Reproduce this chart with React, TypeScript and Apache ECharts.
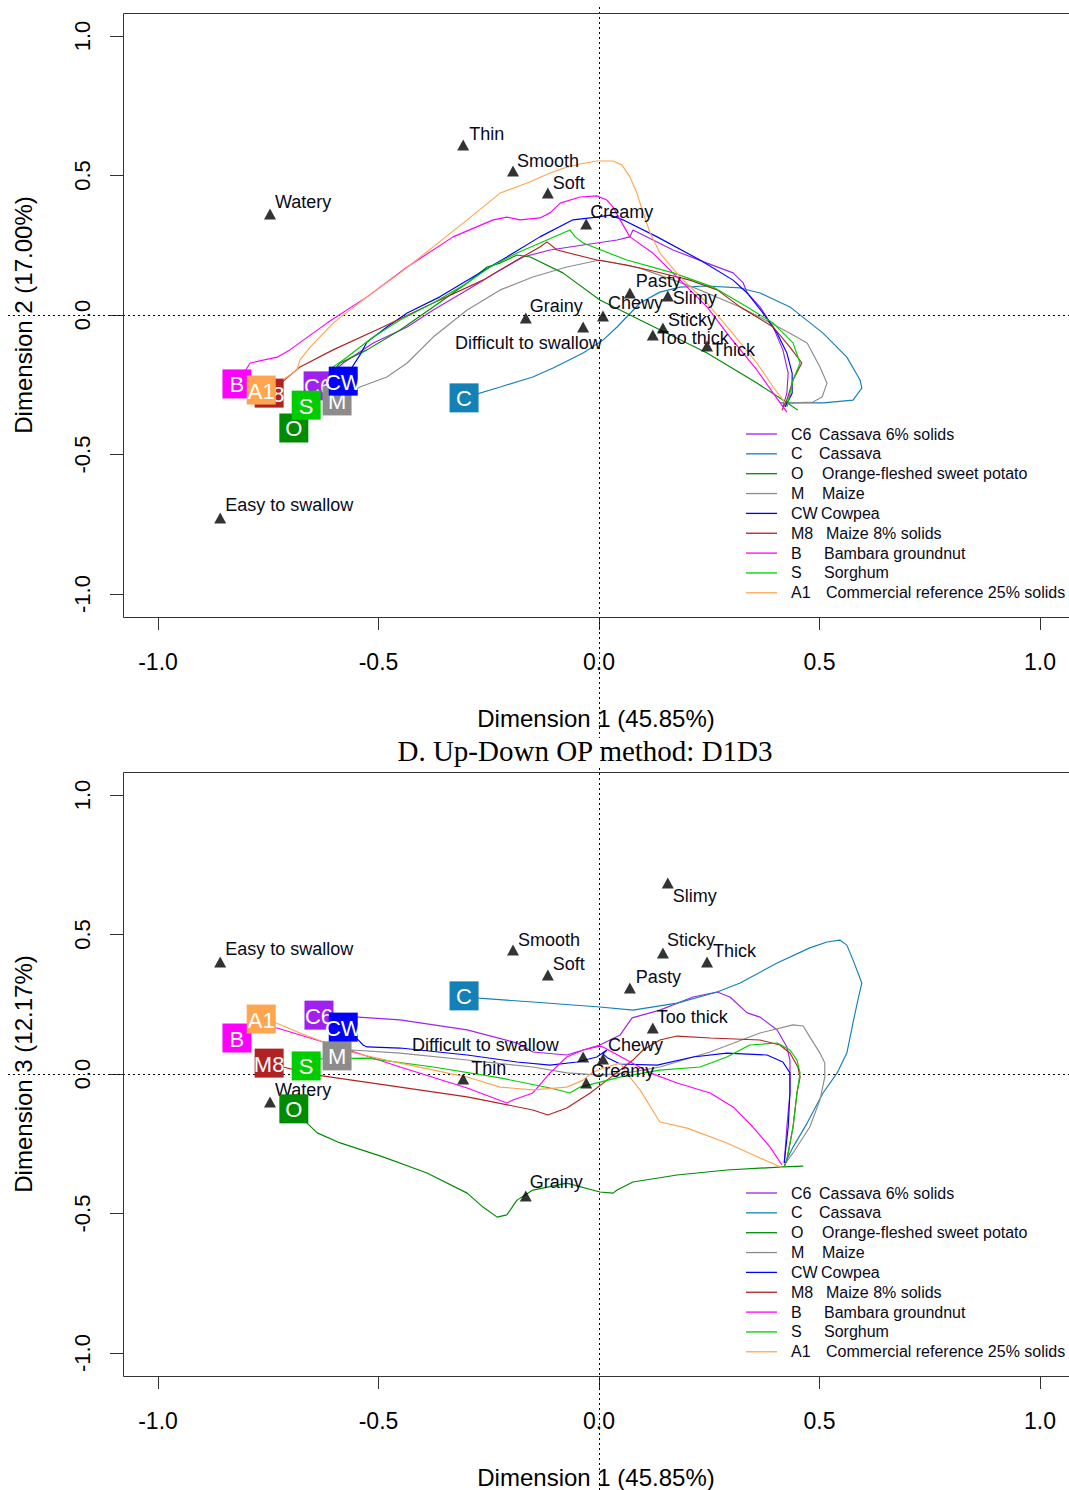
import React, { useEffect, useRef } from "react";
import * as echarts from "echarts";

const SANS = '"Liberation Sans", Arial, Helvetica, sans-serif';
const SERIF = '"Liberation Serif", "Times New Roman", serif';

// ---------- products ----------
const productCodes = ["C6", "C", "O", "M", "CW", "M8", "B", "S", "A1"];
const productNames = [
  "Cassava 6% solids",
  "Cassava",
  "Orange-fleshed sweet potato",
  "Maize",
  "Cowpea",
  "Maize 8% solids",
  "Bambara groundnut",
  "Sorghum",
  "Commercial reference 25% solids",
];
const productColors = ["#A020F0", "#1380B8", "#008B00", "#8C8C8C", "#0000FF", "#B22222", "#FF00FF", "#00CD00", "#FFA54F"];

// ---------- attributes ----------
const attributes = ["Thin", "Smooth", "Soft", "Creamy", "Pasty", "Slimy", "Chewy", "Sticky", "Too thick", "Thick", "Difficult to swallow", "Grainy", "Watery", "Easy to swallow"];
const attrDim1 = [-0.308, -0.195, -0.116, -0.029, 0.07, 0.156, 0.009, 0.145, 0.122, 0.245, -0.036, -0.166, -0.746, -0.859];
const attrDim2 = [0.609, 0.516, 0.437, 0.326, 0.079, 0.068, -0.004, -0.047, -0.072, -0.111, -0.043, -0.011, 0.362, -0.728];
const attrDim3 = [-0.018, 0.444, 0.355, -0.032, 0.308, 0.685, 0.054, 0.434, 0.165, 0.401, 0.061, -0.437, -0.1, 0.401];

// label offsets (px) relative to the point
const labelOffsetD2 = [[6, -11], [4, -10], [5, -10], [4, -12], [6, -12], [5, 2], [5, -13], [5, -8], [5, 3], [5, 4], [-128, 16], [4, -12], [5, -12], [5, -13]];
const labelOffsetD3 = [[8, -11], [5, -10], [5, -11], [5, -12], [6, -11], [5, 13], [5, -14], [4, -13], [4, -11], [6, -11], [-171, -12], [4, -14], [5, -12], [5, -13]];

// ---------- trajectories, Dimension 1 x Dimension 2 ----------
const pathC6_D2 = [[-0.637, -0.254], [-0.58, -0.172], [-0.512, -0.1], [-0.435, -0.043], [-0.376, 0.018], [-0.299, 0.09], [-0.224, 0.161], [-0.172, 0.208], [-0.111, 0.233], [-0.036, 0.251], [0.041, 0.269], [0.07, 0.28], [0.077, 0.305], [0.168, 0.233], [0.245, 0.186], [0.304, 0.151], [0.327, 0.115], [0.336, 0.079], [0.365, 0.029], [0.395, -0.043], [0.417, -0.125], [0.429, -0.208], [0.426, -0.28], [0.417, -0.33]];
const pathC_D2 = [[-0.306, -0.297], [-0.224, -0.258], [-0.15, -0.222], [-0.104, -0.19], [-0.036, -0.136], [0.009, -0.09], [0.041, -0.043], [0.093, 0.043], [0.138, 0.082], [0.184, 0.1], [0.245, 0.104], [0.32, 0.097], [0.365, 0.079], [0.433, 0.029], [0.508, -0.065], [0.562, -0.151], [0.592, -0.233], [0.596, -0.262], [0.576, -0.305], [0.508, -0.315], [0.433, -0.315], [0.41, -0.315]];
const pathO_D2 = [[-0.692, -0.405], [-0.655, -0.351], [-0.626, -0.244], [-0.587, -0.172], [-0.526, -0.125], [-0.451, -0.054], [-0.376, 0.029], [-0.299, 0.115], [-0.254, 0.172], [-0.224, 0.186], [-0.186, 0.215], [-0.156, 0.208], [-0.082, 0.151], [0.002, 0.054], [0.093, -0.018], [0.245, -0.136], [0.358, -0.244], [0.417, -0.305], [0.451, -0.341]];
const pathM_D2 = [[-0.594, -0.308], [-0.542, -0.258], [-0.481, -0.222], [-0.435, -0.172], [-0.376, -0.079], [-0.299, 0.018], [-0.224, 0.09], [-0.15, 0.136], [-0.073, 0.172], [0.002, 0.197], [0.093, 0.168], [0.213, 0.1], [0.32, 0.029], [0.433, -0.065], [0.472, -0.1], [0.501, -0.186], [0.517, -0.244], [0.506, -0.294], [0.485, -0.312], [0.44, -0.315], [0.422, -0.319]];
const pathCW_D2 = [[-0.58, -0.237], [-0.542, -0.143], [-0.526, -0.097], [-0.481, -0.043], [-0.435, 0.007], [-0.361, 0.065], [-0.286, 0.136], [-0.209, 0.208], [-0.134, 0.28], [-0.059, 0.341], [-0.005, 0.351], [0.025, 0.358], [0.054, 0.341], [0.132, 0.28], [0.229, 0.197], [0.304, 0.125], [0.336, 0.079], [0.372, 0.007], [0.404, -0.065], [0.426, -0.136], [0.438, -0.208], [0.438, -0.28], [0.422, -0.33]];
const pathM8_D2 = [[-0.748, -0.28], [-0.678, -0.186], [-0.603, -0.125], [-0.49, -0.043], [-0.376, 0.043], [-0.263, 0.125], [-0.186, 0.197], [-0.134, 0.244], [-0.118, 0.262], [-0.095, 0.233], [-0.005, 0.197], [0.063, 0.179], [0.132, 0.154], [0.206, 0.125], [0.268, 0.09], [0.32, 0.029], [0.395, -0.043], [0.433, -0.115], [0.46, -0.172], [0.44, -0.233], [0.426, -0.305], [0.415, -0.341]];
const pathB_D2 = [[-0.821, -0.247], [-0.791, -0.172], [-0.73, -0.151], [-0.701, -0.125], [-0.617, -0.029], [-0.526, 0.065], [-0.435, 0.172], [-0.331, 0.28], [-0.24, 0.341], [-0.209, 0.351], [-0.179, 0.341], [-0.134, 0.348], [-0.111, 0.366], [-0.088, 0.401], [-0.043, 0.423], [-0.005, 0.427], [0.018, 0.412], [0.032, 0.387], [0.048, 0.341], [0.07, 0.28], [0.122, 0.222], [0.184, 0.125], [0.245, 0.029], [0.297, -0.079], [0.358, -0.197], [0.395, -0.28], [0.426, -0.348]];
const pathS_D2 = [[-0.664, -0.323], [-0.633, -0.269], [-0.603, -0.186], [-0.58, -0.161], [-0.512, -0.079], [-0.451, -0.018], [-0.376, 0.043], [-0.299, 0.115], [-0.247, 0.172], [-0.186, 0.222], [-0.118, 0.269], [-0.066, 0.305], [-0.054, 0.28], [-0.036, 0.258], [0.063, 0.197], [0.168, 0.151], [0.259, 0.1], [0.336, 0.029], [0.395, -0.029], [0.44, -0.1], [0.456, -0.172], [0.44, -0.233], [0.426, -0.33]];
const pathA1_D2 = [[-0.766, -0.269], [-0.717, -0.233], [-0.685, -0.197], [-0.678, -0.161], [-0.655, -0.115], [-0.603, -0.029], [-0.526, 0.065], [-0.451, 0.151], [-0.376, 0.244], [-0.299, 0.341], [-0.224, 0.437], [-0.163, 0.473], [-0.111, 0.509], [-0.073, 0.53], [-0.043, 0.541], [-0.005, 0.552], [0.032, 0.552], [0.052, 0.538], [0.07, 0.495], [0.086, 0.437], [0.1, 0.366], [0.116, 0.294], [0.138, 0.222], [0.184, 0.136], [0.245, 0.043], [0.297, -0.054], [0.358, -0.172], [0.395, -0.258], [0.422, -0.315]];

// ---------- trajectories, Dimension 1 x Dimension 3 ----------
const pathC6_D3 = [[-0.635, 0.211], [-0.546, 0.204], [-0.451, 0.194], [-0.299, 0.158], [-0.186, 0.111], [-0.15, 0.079], [-0.073, 0.068], [-0.036, 0.086], [0.002, 0.104], [0.048, 0.14], [0.075, 0.201], [0.138, 0.229], [0.213, 0.276], [0.268, 0.294], [0.297, 0.276], [0.336, 0.219], [0.365, 0.204], [0.404, 0.158], [0.426, 0.097], [0.433, 0.05], [0.433, -0.068], [0.426, -0.19], [0.42, -0.319]];
const pathC_D3 = [[-0.306, 0.28], [-0.272, 0.272], [-0.15, 0.258], [0.002, 0.24], [0.077, 0.229], [0.177, 0.254], [0.268, 0.294], [0.32, 0.326], [0.404, 0.398], [0.478, 0.452], [0.517, 0.473], [0.546, 0.48], [0.562, 0.462], [0.576, 0.409], [0.596, 0.326], [0.587, 0.265], [0.576, 0.183], [0.562, 0.075], [0.54, 0.004], [0.508, -0.068], [0.472, -0.176], [0.44, -0.262], [0.422, -0.319]];
const pathO_D3 = [[-0.692, -0.125], [-0.662, -0.176], [-0.639, -0.211], [-0.587, -0.247], [-0.49, -0.297], [-0.39, -0.355], [-0.299, -0.427], [-0.263, -0.477], [-0.231, -0.513], [-0.209, -0.505], [-0.186, -0.452], [-0.15, -0.416], [-0.073, -0.391], [0.002, -0.423], [0.032, -0.427], [0.041, -0.416], [0.077, -0.387], [0.177, -0.362], [0.29, -0.344], [0.417, -0.333], [0.463, -0.33]];
const pathM_D3 = [[-0.594, 0.065], [-0.56, 0.086], [-0.451, 0.075], [-0.299, 0.05], [-0.15, 0.025], [-0.073, 0.004], [0.002, -0.004], [0.063, 0.004], [0.138, 0.025], [0.252, 0.079], [0.365, 0.147], [0.44, 0.176], [0.463, 0.172], [0.478, 0.133], [0.501, 0.075], [0.512, 0.039], [0.512, -0.011], [0.501, -0.093], [0.478, -0.19], [0.44, -0.283], [0.42, -0.326]];
const pathCW_D3 = [[-0.58, 0.168], [-0.546, 0.122], [-0.535, 0.104], [-0.526, 0.097], [-0.451, 0.093], [-0.299, 0.068], [-0.186, 0.043], [-0.111, 0.032], [-0.05, 0.043], [-0.005, 0.061], [0.018, 0.086], [0.009, 0.072], [0.02, 0.057], [0.048, 0.036], [0.132, 0.032], [0.213, 0.061], [0.29, 0.075], [0.381, 0.068], [0.417, 0.043], [0.433, 0.004], [0.433, -0.068], [0.429, -0.19], [0.42, -0.319]];
const pathM8_D3 = [[-0.748, 0.039], [-0.717, 0.025], [-0.639, -0.004], [-0.451, -0.047], [-0.299, -0.082], [-0.15, -0.129], [-0.116, -0.147], [-0.073, -0.122], [-0.02, -0.068], [0.025, -0.014], [0.077, 0.05], [0.1, 0.086], [0.138, 0.122], [0.177, 0.136], [0.252, 0.129], [0.365, 0.122], [0.41, 0.104], [0.433, 0.075], [0.451, 0.025], [0.456, -0.011], [0.449, -0.068], [0.44, -0.19], [0.426, -0.308], [0.42, -0.333]];
const pathB_D3 = [[-0.821, 0.129], [-0.787, 0.168], [-0.73, 0.165], [-0.603, 0.104], [-0.451, 0.025], [-0.299, -0.05], [-0.209, -0.104], [-0.195, -0.093], [-0.15, -0.068], [-0.111, 0.004], [-0.073, 0.061], [-0.036, 0.086], [0.002, 0.1], [0.009, 0.097], [0.063, 0.05], [0.116, 0.004], [0.177, -0.032], [0.252, -0.068], [0.304, -0.118], [0.349, -0.19], [0.388, -0.262], [0.415, -0.326]];
const pathS_D3 = [[-0.664, 0.029], [-0.633, 0.054], [-0.526, 0.057], [-0.376, 0.025], [-0.224, -0.014], [-0.111, -0.05], [-0.066, -0.068], [-0.043, -0.047], [0.002, -0.029], [0.048, -0.011], [0.138, 0.014], [0.229, 0.025], [0.29, 0.061], [0.342, 0.104], [0.404, 0.111], [0.433, 0.086], [0.449, 0.05], [0.456, 0.004], [0.449, -0.068], [0.44, -0.19], [0.426, -0.308], [0.42, -0.333]];
const pathA1_D3 = [[-0.766, 0.197], [-0.732, 0.183], [-0.678, 0.147], [-0.565, 0.079], [-0.451, 0.039], [-0.299, -0.011], [-0.224, -0.047], [-0.15, -0.057], [-0.073, -0.047], [-0.036, -0.022], [-0.014, 0.007], [0.018, 0.025], [0.048, 0.039], [0.07, -0.011], [0.093, -0.057], [0.138, -0.172], [0.2, -0.194], [0.29, -0.247], [0.365, -0.301], [0.417, -0.337]];

const pathsD2 = [pathC6_D2, pathC_D2, pathO_D2, pathM_D2, pathCW_D2, pathM8_D2, pathB_D2, pathS_D2, pathA1_D2];
const pathsD3 = [pathC6_D3, pathC_D3, pathO_D3, pathM_D3, pathCW_D3, pathM8_D3, pathB_D3, pathS_D3, pathA1_D3];

// ---------- axes ----------
const axisTicks = [-1, -0.5, 0, 0.5, 1];
const xAxisTitle = "Dimension 1 (45.85%)";
const yAxisTitles = ["Dimension 2 (17.00%)", "Dimension 3 (12.17%)"];
const panelTitle = "D. Up-Down OP method: D1D3";

// ---------- layout ----------
const W = 1069;
const H = 1490;
const GRID_LEFT = 123;
const GRID_W = 946;
const GRID_H = 604;
const GRID_TOPS = [13, 772];
const X_MIN = -1.0794;
const X_MAX = 1.0658;
const Y_LIM = 1.0824;
const LEG_LINE_X0 = 746;
const LEG_LINE_X1 = 777;
const LEG_CODE_X = 791;
const legendNameX = [819, 819, 822, 822, 821, 826, 824, 824, 826];
const LEG_ROW0 = 421;
const LEG_STEP = 19.85;

function panelSeries(gi: number, ys: number[], paths: number[][][], offsets: number[][]) {
  const series: any[] = [];
  paths.forEach((p, i) => {
    series.push({
      type: "line",
      xAxisIndex: gi,
      yAxisIndex: gi,
      data: p,
      showSymbol: false,
      symbol: "none",
      silent: true,
      z: 2,
      lineStyle: { width: 1.15, color: productColors[i] },
    });
  });
  const pts = attributes.map((_, k) => [attrDim1[k], ys[k]]);
  series.push({
    type: "scatter",
    xAxisIndex: gi,
    yAxisIndex: gi,
    data: pts,
    symbol: "triangle",
    symbolSize: [12, 11],
    itemStyle: { color: "#000" },
    silent: true,
    z: 3,
  });
  series.push({
    type: "custom",
    coordinateSystem: "cartesian2d",
    xAxisIndex: gi,
    yAxisIndex: gi,
    data: pts,
    silent: true,
    z: 4,
    renderItem: (params: any, api: any) => {
      const k = params.dataIndex;
      const c = api.coord([api.value(0), api.value(1)]);
      const o = offsets[k];
      return {
        type: "text",
        x: c[0] + o[0],
        y: c[1] + o[1],
        style: {
          text: attributes[k],
          fill: "#0a0a1a",
          fontSize: 18,
          fontFamily: SANS,
          align: "left",
          verticalAlign: "middle",
          textAlign: "left",
          textVerticalAlign: "middle",
        },
      };
    },
  });
  series.push({
    type: "custom",
    coordinateSystem: "cartesian2d",
    xAxisIndex: gi,
    yAxisIndex: gi,
    data: paths.map((p) => p[0]),
    silent: true,
    z: 5,
    renderItem: (params: any, api: any) => {
      const i = params.dataIndex;
      const c = api.coord([api.value(0), api.value(1)]);
      return {
        type: "group",
        children: [
          { type: "rect", shape: { x: c[0] - 14.5, y: c[1] - 14.5, width: 29, height: 29 }, style: { fill: productColors[i] } },
          {
            type: "text",
            x: c[0],
            y: c[1] + 1,
            style: {
              text: productCodes[i],
              fill: "#fff",
              fontSize: 22,
              fontFamily: SANS,
              align: "center",
              verticalAlign: "middle",
              textAlign: "center",
              textVerticalAlign: "middle",
            },
          },
        ],
      };
    },
  });
  return series;
}

const fmt = (v: number) => v.toFixed(1);
const snap = (v: number) => Math.round(v) + 0.5;

export default function App() {
  const ref = useRef<HTMLDivElement>(null);
  useEffect(() => {
    if (!ref.current) return;
    const chart = echarts.init(ref.current, null, { renderer: "svg", width: W, height: H });
    const grids = GRID_TOPS.map((t) => ({
      left: GRID_LEFT,
      top: t,
      width: GRID_W,
      height: GRID_H,
      show: false,
    }));
    const xAxes = GRID_TOPS.map((_, gi) => ({
      type: "value",
      gridIndex: gi,
      min: X_MIN,
      max: X_MAX,
      splitLine: { show: false },
      axisLine: { show: false, onZero: false },
      axisTick: { show: true, length: 13, customValues: axisTicks, lineStyle: { color: "#333", width: 1 } },
      axisLabel: { customValues: axisTicks, formatter: fmt, fontSize: 23, color: "#000", fontFamily: SANS, margin: 33 },
      name: xAxisTitle,
      nameLocation: "middle",
      nameGap: 89,
      nameTextStyle: { fontSize: 24, color: "#000", fontFamily: SANS },
    }));
    const yAxes = GRID_TOPS.map((_, gi) => ({
      type: "value",
      gridIndex: gi,
      min: -Y_LIM,
      max: Y_LIM,
      splitLine: { show: false },
      axisLine: { show: false, onZero: false },
      axisTick: { show: true, length: 13, customValues: axisTicks, lineStyle: { color: "#333", width: 1 } },
      axisLabel: { customValues: axisTicks, formatter: fmt, fontSize: 22, color: "#000", fontFamily: SANS, margin: 30, rotate: 90 },
      name: yAxisTitles[gi],
      nameLocation: "middle",
      nameGap: 88,
      nameTextStyle: { fontSize: 24, color: "#000", fontFamily: SANS },
    }));
    const series = [
      ...panelSeries(0, attrDim2, pathsD2, labelOffsetD2),
      ...panelSeries(1, attrDim3, pathsD3, labelOffsetD3),
    ];
    chart.setOption({
      animation: false,
      backgroundColor: "#fff",
      grid: grids,
      xAxis: xAxes,
      yAxis: yAxes,
      series,
    });

    const dot = { stroke: "#000", lineWidth: 1, lineDash: [2, 3] };
    const frame = { stroke: "#333", lineWidth: 1 };
    const graphics: any[] = [];
    const vTop = [7, 768];
    const vBottom = [738, H];
    [0, 1].forEach((gi) => {
      const z0 = chart.convertToPixel({ gridIndex: gi }, [0, 0]) as number[];
      const tl = chart.convertToPixel({ gridIndex: gi }, [X_MIN, Y_LIM]) as number[];
      const br = chart.convertToPixel({ gridIndex: gi }, [X_MAX, -Y_LIM]) as number[];
      const l = snap(tl[0]);
      const t = snap(tl[1]);
      const b = snap(br[1]);
      const r = W + 2;
      graphics.push({ type: "line", z: 1, shape: { x1: 8, y1: snap(z0[1]), x2: W, y2: snap(z0[1]) }, style: dot });
      graphics.push({ type: "line", z: 1, shape: { x1: snap(z0[0]), y1: vTop[gi], x2: snap(z0[0]), y2: vBottom[gi] }, style: dot });
      graphics.push({ type: "line", z: 1, shape: { x1: l, y1: t, x2: r, y2: t }, style: frame });
      graphics.push({ type: "line", z: 1, shape: { x1: l, y1: b, x2: r, y2: b }, style: frame });
      graphics.push({ type: "line", z: 1, shape: { x1: l, y1: t, x2: l, y2: b }, style: frame });
    });
    graphics.push({
      type: "text",
      x: 585,
      y: 751,
      style: {
        text: panelTitle,
        fill: "#000",
        fontSize: 29,
        fontFamily: SERIF,
        align: "center",
        verticalAlign: "middle",
        textAlign: "center",
        textVerticalAlign: "middle",
      },
    });
    GRID_TOPS.forEach((t) => {
      productCodes.forEach((code, i) => {
        const y = t + LEG_ROW0 + i * LEG_STEP;
        graphics.push({ type: "line", z: 6, shape: { x1: LEG_LINE_X0, y1: y, x2: LEG_LINE_X1, y2: y }, style: { stroke: productColors[i], lineWidth: 1.3 } });
        graphics.push({
          type: "text",
          z: 6,
          x: LEG_CODE_X,
          y,
          style: { text: code, fill: "#0a0a1a", fontSize: 16, fontFamily: SANS, align: "left", verticalAlign: "middle", textAlign: "left", textVerticalAlign: "middle" },
        });
        graphics.push({
          type: "text",
          z: 6,
          x: legendNameX[i],
          y,
          style: { text: productNames[i], fill: "#0a0a1a", fontSize: 16, fontFamily: SANS, align: "left", verticalAlign: "middle", textAlign: "left", textVerticalAlign: "middle" },
        });
      });
    });
    chart.setOption({ graphic: graphics });
    return () => chart.dispose();
  }, []);
  return (
    <div
      ref={ref}
      style={{ position: "fixed", left: 0, top: 0, width: W, height: H, overflow: "hidden", background: "#fff" }}
    />
  );
}
